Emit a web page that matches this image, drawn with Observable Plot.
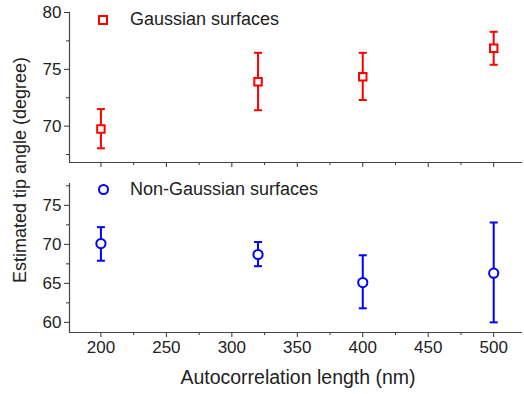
<!DOCTYPE html>
<html><head><meta charset="utf-8">
<script src="https://cdn.jsdelivr.net/npm/d3@7"></script>
<script src="https://cdn.jsdelivr.net/npm/@observablehq/plot@0.6"></script>
<style>
body{margin:0;background:#fff;font-family:"Liberation Sans",Arial,sans-serif;color:#222}
#wrap{position:relative;width:524px;height:394px;overflow:hidden}
.panel{position:absolute;left:0}
.legend{position:absolute;left:96px;font-size:18px;display:flex;align-items:center;white-space:nowrap}
.legend .sym{width:14px;height:14px;margin-right:20px;display:flex;align-items:center;justify-content:center}
.ytitle{position:absolute;left:20px;top:170px;transform:translate(-50%,-50%) rotate(-90deg);font-size:18px;white-space:nowrap}
.xtitle{position:absolute;left:298px;top:377px;transform:translate(-50%,-50%);font-size:19.5px;white-space:nowrap}
</style></head><body><div id="wrap"></div>
<script>
const lengths = [200, 320, 400, 500];
const gaussMean = [69.75, 73.9, 74.35, 76.85];
const gaussLow = [68.05, 71.4, 72.3, 75.4];
const gaussHigh = [71.5, 76.45, 76.45, 78.3];
const nonGaussMean = [70.1, 68.7, 65.1, 66.3];
const nonGaussLow = [67.9, 67.2, 61.8, 60.0];
const nonGaussHigh = [72.2, 70.3, 68.6, 72.8];
const xMajorTicks = [200, 250, 300, 350, 400, 450, 500];
const xMinorTicks = [225, 275, 325, 375, 425, 475];
const topYMajor = [70, 75, 80];
const topYMinor = [67.5, 72.5, 77.5];
const botYMajor = [60, 65, 70, 75];
const botYMinor = [62.5, 67.5, 72.5, 77.5];
const xTitle = "Autocorrelation length (nm)";
const yTitle = "Estimated tip angle (degree)";
const gaussName = "Gaussian surfaces";
const nonGaussName = "Non-Gaussian surfaces";

const xDomain = [176, 522];
const capSymbol = {draw(ctx, size) { const w = Math.sqrt(size / Math.PI); ctx.moveTo(-w, 0); ctx.lineTo(w, 0); }};

function panel({mean, low, high, color, symbol, yDomain, yMajor, yMinor, height, marginTop, marginBottom, showXLabels}) {
  const data = lengths.map((x, i) => ({x, m: mean[i], lo: low[i], hi: high[i]}));
  return Plot.plot({
    width: 524, height, marginLeft: 69, marginRight: 2, marginTop, marginBottom,
    style: {fontFamily: '"Liberation Sans", Arial, sans-serif', fontSize: "17px", color: "#333", background: "transparent", overflow: "visible"},
    x: {domain: xDomain},
    y: {domain: yDomain},
    marks: [
      Plot.axisY({ticks: yMajor, tickSize: 5, tickPadding: 3, label: null, fontSize: 17, fill: "#222"}),
      Plot.axisY({ticks: yMinor, tickSize: 3, tickFormat: () => "", label: null}),
      Plot.axisX({ticks: xMajorTicks, tickSize: 5, tickPadding: 3, label: null, fontSize: 17, fill: "#222", tickFormat: showXLabels ? d => String(d) : () => ""}),
      Plot.axisX({ticks: xMinorTicks, tickSize: 3, tickFormat: () => "", label: null}),
      Plot.ruleY([yDomain[0]], {stroke: "#444", strokeWidth: 1.2}),
      Plot.ruleX([xDomain[0]], {stroke: "#444", strokeWidth: 1.2}),
      Plot.ruleX(data, {x: "x", y1: "lo", y2: "hi", stroke: color, strokeWidth: 2}),
      Plot.dot(data, {x: "x", y: "lo", symbol: capSymbol, r: 4, stroke: color, strokeWidth: 2}),
      Plot.dot(data, {x: "x", y: "hi", symbol: capSymbol, r: 4, stroke: color, strokeWidth: 2}),
      Plot.dot(data, {x: "x", y: "m", symbol, r: symbol === "square" ? 4.2 : 4.6, stroke: color, strokeWidth: 2, fill: "white"})
    ]
  });
}

const wrap = document.getElementById("wrap");
const topPanel = panel({mean: gaussMean, low: gaussLow, high: gaussHigh, color: "#ff0000", symbol: "square",
  yDomain: [66.8, 80], yMajor: topYMajor, yMinor: topYMinor, height: 170, marginTop: 12, marginBottom: 8, showXLabels: false});
topPanel.classList.add("panel"); topPanel.style.top = "0px";
wrap.appendChild(topPanel);
const botPanel = panel({mean: nonGaussMean, low: nonGaussLow, high: nonGaussHigh, color: "#0000ff", symbol: "circle",
  yDomain: [58.7, 77.8], yMajor: botYMajor, yMinor: botYMinor, height: 224, marginTop: 13, marginBottom: 62, showXLabels: true});
botPanel.classList.add("panel"); botPanel.style.top = "170px";
wrap.appendChild(botPanel);

function legend(text, topPx, shape, color) {
  const d = document.createElement("div");
  d.className = "legend"; d.style.top = topPx + "px";
  const s = document.createElement("span"); s.className = "sym";
  const inner = document.createElement("span");
  inner.style.cssText = shape === "square"
    ? `width:6px;height:6px;border:2px solid ${color};background:#fff`
    : `width:7px;height:7px;border:2px solid ${color};border-radius:50%;background:#fff`;
  s.appendChild(inner); d.appendChild(s);
  d.appendChild(document.createTextNode(text));
  wrap.appendChild(d);
}
legend(gaussName, 9, "square", "#ff0000");
legend(nonGaussName, 179, "circle", "#0000ff");

const yt = document.createElement("div"); yt.className = "ytitle"; yt.textContent = yTitle; wrap.appendChild(yt);
const xt = document.createElement("div"); xt.className = "xtitle"; xt.textContent = xTitle; wrap.appendChild(xt);
</script>
</body></html>
